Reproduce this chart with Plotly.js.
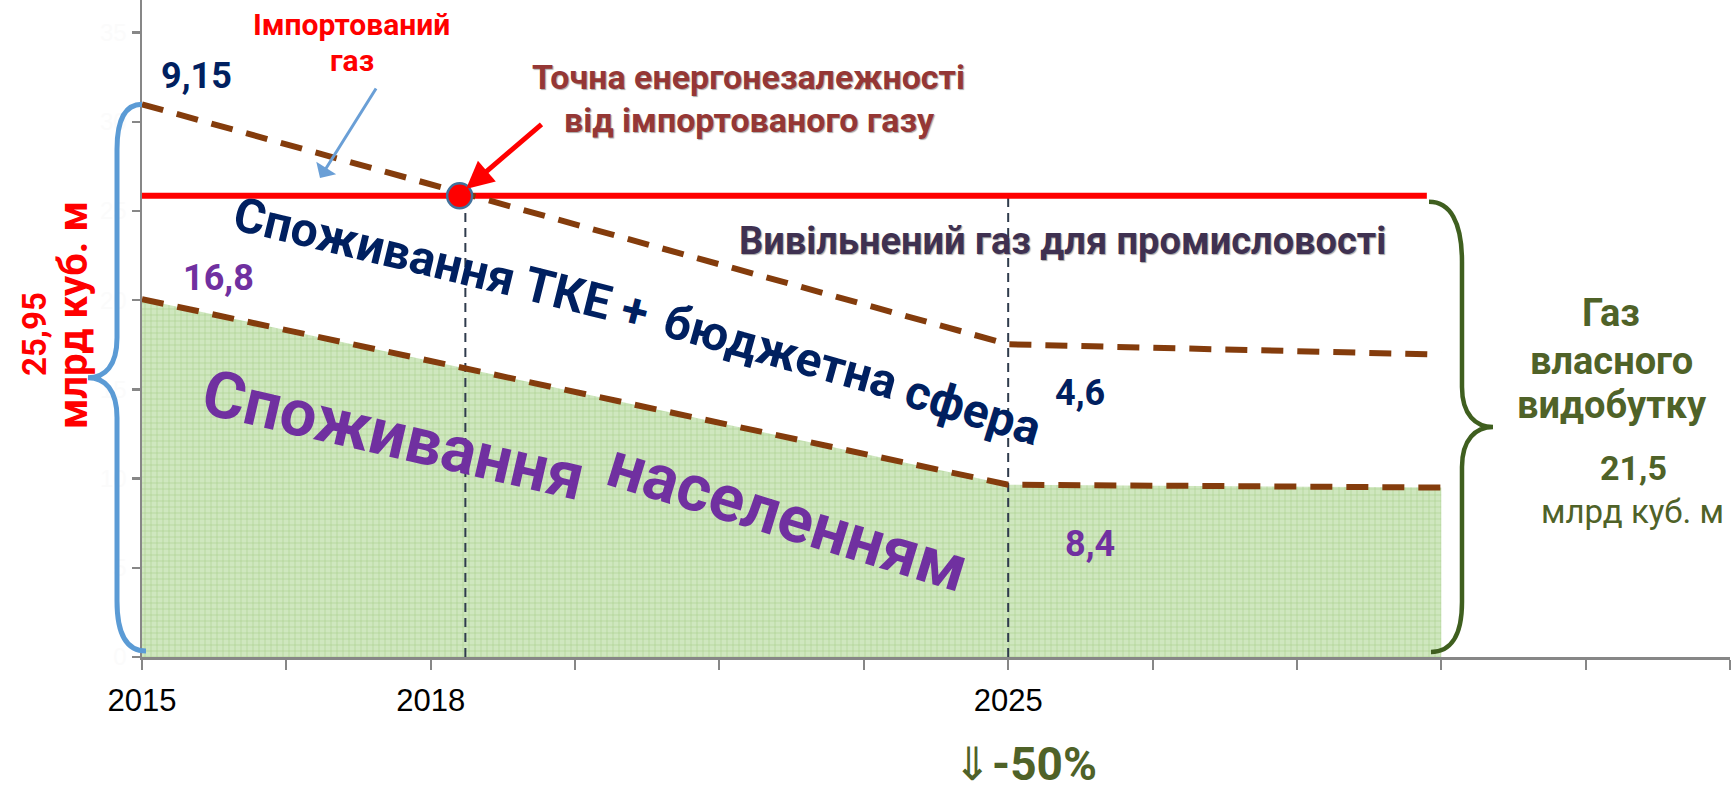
<!DOCTYPE html>
<html><head><meta charset="utf-8">
<script src="https://cdn.plot.ly/plotly-3.0.1.min.js"></script>
<style>html,body{margin:0;padding:0;background:#fff;} #chart{width:1733px;height:791px;}</style>
</head><body><div id="chart"></div>
<script>
// ---------------- data ----------------
const tickPos   = [0,1,2,3,4,5,6,7,8,9,10,11];
const tickYears = ['2015','','2018','','','','2025','','','','',''];
const yTicks    = [0,5,10,15,20,25,30,35];
const periodX      = [0, 6, 9];              // 2015, 2025, end of horizon
const totalUse     = [30.98, 17.53, 16.95];  // населення + ТКЕ + бюджетна сфера
const householdUse = [20.06, 9.66, 9.5];     // населення
const ownLevelX = [0, 8.9];
const ownLevelY = [25.85, 25.85];            // газ власного видобутку
const crossX = [2.2];
const crossY = [25.85];                      // точка енергонезалежності
const guideX = [2.24, 6];
const labelTotal2015 = '9,15', labelHouse2015 = '16,8', labelTKE2025 = '4,6', labelHouse2025 = '8,4';

// ---------------- geometry helpers ----------------
const W = 1733, H = 791, L = 142, R = 1730, T = 0, B = 657, YMAX = 36.83;
const px = x => (x - L) / (R - L);
const py = y => (B - y) / (B - T);
const vy = v => B - v * (B - T) / YMAX;      // value -> pixel y
const P = (x, y) => px(x).toFixed(5) + ',' + py(y).toFixed(5);

const NAVY = '#002060', PURPLE = '#7030a0', RED = '#ff0000', BROWN = '#843c0c',
      GREEN = '#4f6228', GRAY = '#878787';
const FR = 'Roboto, Liberation Sans, sans-serif';

function txt(text, x, y, size, color, o = {}) {
  return Object.assign({
    xref: 'paper', yref: 'paper', x: px(x), y: py(y), text: text, showarrow: false,
    xanchor: 'center', yanchor: 'middle',
    font: Object.assign({family: FR, size: size, color: color, weight: 700}, o.font || {})
  }, o.extra || {});
}

// ---------------- traces ----------------
const traces = [];
traces.push({x: periodX, y: householdUse, mode: 'none', fill: 'tozeroy',
  fillcolor: '#cbe4b8',
  fillpattern: {shape: '+', fgcolor: '#a5cd8a', bgcolor: '#cfe7bf', size: 6, solidity: 0.18},
  hoverinfo: 'skip'});
guideX.forEach(g => traces.push({x: [g, g], y: [0, ownLevelY[0]], mode: 'lines',
  line: {color: '#2f3b4c', width: 2, dash: '9px,6px'}, hoverinfo: 'skip'}));
traces.push({x: ownLevelX, y: ownLevelY, mode: 'lines', line: {color: RED, width: 6}, hoverinfo: 'skip'});
traces.push({x: periodX, y: totalUse, mode: 'lines', line: {color: BROWN, width: 6, dash: '22px,14px'}, hoverinfo: 'skip'});
traces.push({x: periodX, y: householdUse, mode: 'lines', line: {color: BROWN, width: 6, dash: '22px,14px'}, hoverinfo: 'skip'});
traces.push({x: crossX, y: crossY, mode: 'markers',
  marker: {color: RED, size: 25, line: {color: '#41719c', width: 2.5}}, hoverinfo: 'skip'});

// ---------------- braces ----------------
function leftBrace() {
  const yT = vy(totalUse[0]), yB = B - 6, m = (yT + yB) / 2, xv = 117, xt = 88;
  return 'M' + P(L, yT) + ' C' + P(125, yT) + ' ' + P(xv, yT + 15) + ' ' + P(xv, yT + 45) +
    ' L' + P(xv, m - 40) + ' C' + P(xv, m - 12) + ' ' + P(105, m) + ' ' + P(xt, m) +
    ' C' + P(105, m) + ' ' + P(xv, m + 12) + ' ' + P(xv, m + 40) +
    ' L' + P(xv, yB - 50) + ' C' + P(xv, yB - 15) + ' ' + P(128, yB) + ' ' + P(146, yB);
}
function rightBrace() {
  const yT = vy(ownLevelY[0]) + 6, yB = B - 5, m = (yT + yB) / 2, x0 = 1429, xv = 1462, xt = 1493;
  return 'M' + P(x0, yT) + ' C' + P(1450, yT) + ' ' + P(xv, yT + 20) + ' ' + P(xv, yT + 60) +
    ' L' + P(xv, m - 40) + ' C' + P(xv, m - 12) + ' ' + P(1476, m) + ' ' + P(xt, m) +
    ' C' + P(1476, m) + ' ' + P(xv, m + 12) + ' ' + P(xv, m + 40) +
    ' L' + P(xv, yB - 50) + ' C' + P(xv, yB - 15) + ' ' + P(1450, yB) + ' ' + P(1431, yB);
}
const shapes = [
  {type: 'path', xref: 'paper', yref: 'paper', path: leftBrace(), line: {color: '#5b9bd5', width: 5}},
  {type: 'path', xref: 'paper', yref: 'paper', path: rightBrace(), line: {color: '#3f5f1f', width: 4.5}}
];

// ---------------- annotations ----------------
const shadow = '1px 1px 1px rgba(60,60,60,0.45)';
const ann = [
  txt('Імпортований', 351, 24, 30, RED),
  txt('газ', 352, 60, 30, RED),
  txt('Точна енергонезалежності', 748, 77, 34, '#953735', {font: {shadow: shadow}}),
  txt('від імпортованого газу', 749, 120, 34, '#953735', {font: {shadow: shadow}}),
  txt('Вивільнений газ для промисловості', 1062, 241, 38, '#3f3151', {font: {shadow: shadow}}),
  txt(labelTotal2015, 196, 76, 36, NAVY),
  txt(labelHouse2015, 218, 278, 36, PURPLE),
  txt(labelTKE2025, 1080, 393, 36, NAVY),
  txt(labelHouse2025, 1090, 544, 36, PURPLE),
  txt('Газ', 1611, 313, 38, GREEN),
  txt('власного', 1611, 361, 38, GREEN),
  txt('видобутку', 1612, 405, 38, GREEN),
  txt('21,5', 1633, 468, 34, GREEN),
  txt('млрд куб. м', 1632, 511, 33, GREEN, {font: {weight: 400}}),
  txt('25,95', 34, 334, 33, RED, {extra: {textangle: -90}}),
  txt('млрд куб. м', 73, 315, 40, RED, {extra: {textangle: -90}}),
  txt('<span style="font-weight:400">⇓</span>-50%', 1025, 764, 46, GREEN),
  // WordArt-like curved labels
  txt('Споживання', 375, 246, 48, NAVY, {extra: {textangle: 13.5}}),
  txt('ТКЕ', 568, 293, 48, NAVY, {extra: {textangle: 14}}),
  txt('+', 635, 310, 48, NAVY, {extra: {textangle: 14.5}}),
  txt('бюджетна', 781, 351, 48, NAVY, {extra: {textangle: 15.5}}),
  txt('сфера', 973, 409, 48, NAVY, {extra: {textangle: 17}}),
  txt('Споживання', 393, 435, 65, PURPLE, {extra: {textangle: 13}}),
  txt('населенням', 788, 517, 65, PURPLE, {extra: {textangle: 17}}),
  // arrows
  {xref: 'paper', yref: 'paper', x: px(320), y: py(178), ax: 57, ay: -91, text: '', showarrow: true,
   arrowhead: 1, arrowsize: 1.3, arrowwidth: 3, arrowcolor: '#6a9fd6', standoff: 0},
  {xref: 'paper', yref: 'paper', x: px(466), y: py(189), ax: 77, ay: -66, text: '', showarrow: true,
   arrowhead: 2, arrowsize: 1.1, arrowwidth: 5, arrowcolor: RED, standoff: 0}
];

const layout = {
  width: W, height: H, autosize: false,
  margin: {l: L, r: W - R, t: T, b: H - B, pad: 0},
  paper_bgcolor: '#ffffff', plot_bgcolor: 'rgba(0,0,0,0)', showlegend: false,
  xaxis: {range: [0, 11], tickmode: 'array', tickvals: tickPos, ticktext: tickYears,
    ticks: 'outside', ticklen: 10, tickwidth: 2, tickcolor: GRAY,
    showline: true, linecolor: GRAY, linewidth: 3, showgrid: false, zeroline: false,
    tickfont: {family: 'Liberation Sans, Arial, sans-serif', size: 31, color: '#000'},
    ticklabelstandoff: 4, fixedrange: true},
  yaxis: {range: [0, YMAX], tickmode: 'array', tickvals: yTicks,
    ticks: 'outside', ticklen: 8, tickwidth: 2.5, tickcolor: GRAY,
    showline: true, linecolor: GRAY, linewidth: 2.5, showgrid: false, zeroline: false,
    tickfont: {family: 'Liberation Sans, Arial, sans-serif', size: 24, color: '#fbfbfb'},
    fixedrange: true},
  shapes: shapes,
  annotations: ann
};

Plotly.newPlot('chart', traces, layout, {staticPlot: true, displayModeBar: false});
</script></body></html>
